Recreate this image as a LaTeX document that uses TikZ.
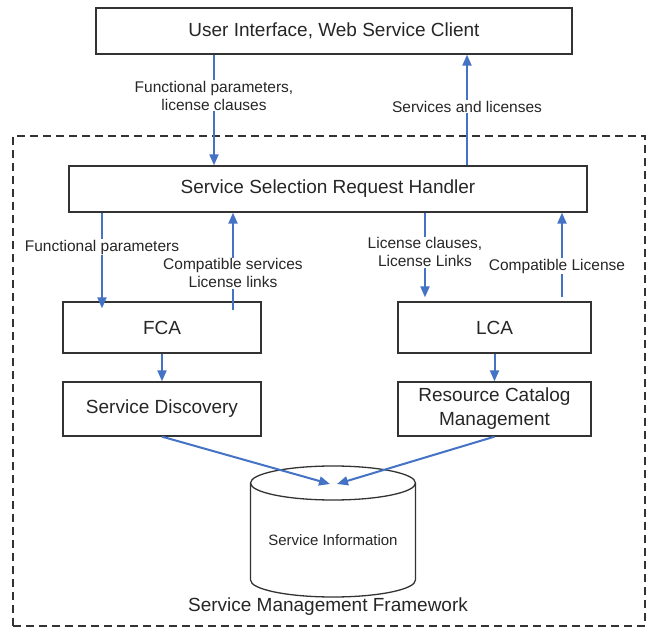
\documentclass[tikz,border=0pt]{standalone}
\usepackage{fontspec}
\setmainfont{Liberation Sans}
\usetikzlibrary{positioning, arrows.meta, calc}
\definecolor{flowblue}{RGB}{68,114,196}

\begin{document}
\begin{tikzpicture}[
  x=1pt, y=-1pt,
  every node/.style={font=\fontsize{15.5}{18}\selectfont, text=black!85},
  box/.style={draw=black!80, line width=1.3pt, align=center, font=\fontsize{19}{23}\selectfont},
  lbl/.style={fill=white, align=center, inner sep=1pt},
  arrow/.style={-{Triangle[length=11pt, width=9pt]}, flowblue, line width=2pt},
]
\useasboundingbox (0,0) rectangle (648,628);

% Client and framework
\node[box, minimum width=476, minimum height=46] (ui) at (334,31) {User Interface, Web Service Client};
\node[draw=black!80, line width=1.2pt, dash pattern=on 8pt off 5pt, minimum width=632, minimum height=490] (frame) at (329,381) {};
\node[font=\fontsize{19}{23}\selectfont] (smf) at (328,607) {Service Management Framework};

% Handler and agents
\node[box, minimum width=518, minimum height=46] (handler) at (328,189) {Service Selection Request Handler};
\node[box, minimum width=198, minimum height=51] (fca) at (162,327.5) {FCA};
\node[box, minimum width=193, minimum height=51] (lca) at (494.5,327.5) {LCA};
\node[box, minimum width=198, minimum height=54] (sd) at (162,409) {Service Discovery};
\node[box, minimum width=193, minimum height=54] (rcm) at (494.5,409) {Resource Catalog\\[1pt] Management};

% Service information store
\node[font=\fontsize{15}{18}\selectfont] (db) at (333,540) {Service Information};
\draw[black!80, line width=1.3pt, fill=white] (333,483) ellipse [x radius=82.5, y radius=17];
\draw[black!80, line width=1.3pt] (250.5,483) -- (250.5,580) arc[start angle=180, end angle=0, x radius=82.5, y radius=17] -- (415.5,483);
\coordinate (dbl) at (330,484);
\coordinate (dbr) at (337,484);

% Requests and answers
\draw[arrow] ([xshift=-120]ui.south) -- node[lbl, pos=0.37] {Functional parameters,\\ license clauses} ([xshift=-120]ui.south |- handler.north);
\draw[arrow] ([xshift=139]handler.north) -- node[lbl, pos=0.53] {Services and licenses} ([xshift=139]handler.north |- ui.south);
\draw[arrow] ([xshift=-60]fca.north |- handler.south) -- node[lbl, pos=0.36] {Functional parameters} ([xshift=-60,yshift=-7]fca.north);
\draw[arrow] ([xshift=71,yshift=-9]fca.north) -- node[lbl, pos=0.38] {Compatible services\\ License links} ([xshift=71]fca.north |- handler.south);
\draw[arrow] ([xshift=-69.5]lca.north |- handler.south) -- node[lbl, pos=0.47] {License clauses,\\ License Links} ([xshift=-69.5,yshift=4]lca.north);
\draw[arrow] ([xshift=67.5,yshift=4]lca.north) -- node[lbl, pos=0.37, xshift=-5] {Compatible License} ([xshift=67.5]lca.north |- handler.south);
\draw[arrow] (fca) -- (sd);
\draw[arrow] (lca) -- (rcm);
\draw[arrow] (sd.south) -- (dbl);
\draw[arrow] (rcm.south) -- (dbr);
\end{tikzpicture}
\end{document}
